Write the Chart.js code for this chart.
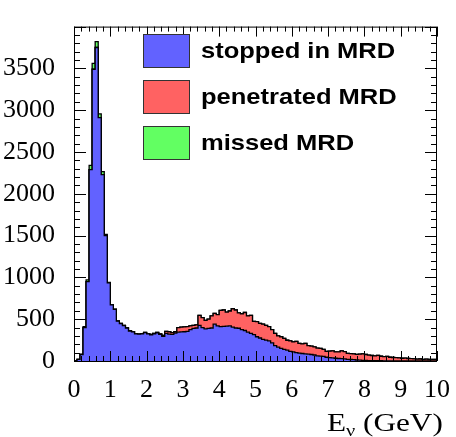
<!DOCTYPE html>
<html lang="en">
<head>
<meta charset="UTF-8">
<title>E_nu spectrum by MRD category</title>
<script src="https://cdn.jsdelivr.net/npm/chart.js@4"></script>
<style>
    body { margin: 0; background: #fff; }
    canvas { display: block; }
</style>
</head>
<body>
<canvas id="enuChart" width="456" height="437"></canvas>
<script>
    // 120 bins from 0 to 10 GeV, counts per bin
    const xMin = 0, xMax = 10, nBins = 120;
    const binWidth = (xMax - xMin) / nBins;

    const stoppedInMRD = [
        0, 0, 20, 78, 400, 950, 2290, 3490, 3750, 2910,
        2230, 1500, 935, 672, 618, 476, 448, 424, 394, 359,
        349, 324, 321, 326, 340, 325, 314, 326, 336, 318,
        296, 330, 322, 318, 335, 345, 348, 350, 355, 375,
        390, 395, 425, 400, 385, 390, 395, 440, 420, 410,
        415, 418, 420, 405, 395, 392, 375, 365, 345, 330,
        315, 290, 275, 258, 250, 240, 218, 185, 165, 150,
        138, 130, 115, 108, 100, 95, 90, 86, 82, 78,
        72, 62, 58, 55, 45, 40, 38, 33, 30, 28,
        25, 20, 18, 16, 12, 10, 8, 6, 5, 5,
        4, 3, 3, 2, 2, 2, 1, 1, 1, 1,
        1, 1, 1, 1, 1, 1, 1, 1, 1, 1
    ];
    const penetratedMRD = [
        0, 0, 0, 0, 0, 0, 0, 0, 0, 0,
        0, 0, 0, 0, 0, 2, 2, 1, 1, 1,
        1, 1, 1, 2, 3, 3, 4, 4, 6, 7,
        9, 25, 28, 22, 17, 55, 57, 58, 55, 45,
        35, 38, 120, 120, 100, 110, 145, 130, 135, 195,
        195, 167, 178, 220, 215, 183, 190, 215, 195, 215,
        160, 180, 175, 182, 175, 170, 157, 145, 135, 140,
        132, 118, 125, 120, 135, 115, 115, 126, 103, 100,
        98, 93, 92, 85, 70, 78, 84, 75, 80, 92,
        87, 72, 70, 69, 68, 72, 77, 72, 65, 61,
        58, 65, 54, 50, 53, 43, 41, 39, 37, 32,
        34, 29, 27, 24, 21, 23, 19, 21, 17, 19
    ];
    const missedMRD = [
        0, 0, 0, 2, 10, 20, 50, 70, 70, 45,
        35, 15, 5, 3, 2, 1, 1, 1, 1, 1,
        0, 0, 0, 0, 0, 0, 0, 0, 0, 0,
        0, 0, 0, 0, 0, 0, 0, 0, 0, 0,
        0, 0, 0, 0, 0, 0, 0, 0, 0, 0,
        0, 0, 0, 0, 0, 0, 0, 0, 0, 0,
        0, 0, 0, 0, 0, 0, 0, 0, 0, 0,
        0, 0, 0, 0, 0, 0, 0, 0, 0, 0,
        0, 0, 0, 0, 0, 0, 0, 0, 0, 0,
        0, 0, 0, 0, 0, 0, 0, 0, 0, 0,
        0, 0, 0, 0, 0, 0, 0, 0, 0, 0,
        0, 0, 0, 0, 0, 0, 0, 0, 0, 0
    ];

    const seriesLabels = ['stopped in MRD', 'penetrated MRD', 'missed MRD'];
    const seriesColors = ['#6262ff', '#ff6262', '#62ff62'];

    const yMax = 4000;
    const xTickStep = 1, yTickStep = 500;

    // histogram as step line: one point per left bin edge, plus the closing edge
    function toSteps(values) {
        const pts = values.map((v, i) => ({ x: xMin + i * binWidth, y: v }));
        pts.push({ x: xMax, y: values[values.length - 1] });
        return pts;
    }

    // frame with inward ticks on all four sides, legend and x title
    const rootFrame = {
        id: 'rootFrame',
        afterDatasetsDraw(chart) {
            const { ctx, chartArea: a, scales: { x, y } } = chart;
            ctx.save();
            ctx.strokeStyle = '#000';
            ctx.lineWidth = 1;
            ctx.strokeRect(a.left + 0.5, a.top + 0.5, a.right - a.left - 1, a.bottom - a.top);
            ctx.beginPath();
            for (let i = 0; i <= 50; i++) {
                const v = i * 0.2;
                const px = Math.round(x.getPixelForValue(v)) + 0.5;
                const len = i % 5 === 0 ? 10 : 5;
                ctx.moveTo(px, a.bottom); ctx.lineTo(px, a.bottom - len);
                ctx.moveTo(px, a.top); ctx.lineTo(px, a.top + len);
            }
            for (let i = 0; i <= 40; i++) {
                const v = i * 100;
                const py = Math.round(y.getPixelForValue(v)) + 0.5;
                const len = i % 5 === 0 ? 12 : 6;
                ctx.moveTo(a.left, py); ctx.lineTo(a.left + len, py);
                ctx.moveTo(a.right, py); ctx.lineTo(a.right - len, py);
            }
            ctx.stroke();
            ctx.restore();
        },
        afterDraw(chart) {
            const ctx = chart.ctx;
            ctx.save();
            // legend
            const bx = 143, bw = 46, bh = 33, rowTop = [34, 80, 126];
            chart.data.datasets.forEach((ds, i) => {
                ctx.fillStyle = ds.backgroundColor;
                ctx.fillRect(bx, rowTop[i], bw, bh);
                ctx.strokeStyle = '#333';
                ctx.lineWidth = 1;
                ctx.strokeRect(bx + 0.5, rowTop[i] + 0.5, bw, bh);
                ctx.save();
                ctx.translate(201, rowTop[i] + bh / 2 + 1);
                ctx.scale(1.16, 1);
                ctx.fillStyle = '#000';
                ctx.font = 'bold 22px "Liberation Sans", Arial, sans-serif';
                ctx.textBaseline = 'middle';
                ctx.textAlign = 'left';
                ctx.fillText(ds.label, 0, 0);
                ctx.restore();
            });
            // x axis title: E_nu (GeV), a bit wider than the plain font
            ctx.translate(327, 0);
            ctx.scale(1.2, 1);
            ctx.fillStyle = '#000';
            ctx.textBaseline = 'alphabetic';
            ctx.font = '26px "Liberation Serif", "Times New Roman", serif';
            let tx = 0;
            ctx.fillText('E', tx, 431);
            tx += ctx.measureText('E').width;
            ctx.font = '17px "Liberation Serif", "Times New Roman", serif';
            ctx.fillText('\u03BD', tx, 436);
            tx += ctx.measureText('\u03BD').width;
            ctx.font = '26px "Liberation Serif", "Times New Roman", serif';
            ctx.fillText(' (GeV)', tx, 431);
            ctx.restore();
        }
    };

    const tickFont = { family: '"Liberation Serif", "Times New Roman", serif', size: 26 };

    const ctx = document.getElementById('enuChart').getContext('2d');
    const enuChart = new Chart(ctx, {
        type: 'line',
        data: {
            datasets: [stoppedInMRD, penetratedMRD, missedMRD].map((vals, i) => ({
                label: seriesLabels[i],
                data: toSteps(vals),
                backgroundColor: seriesColors[i],
                borderColor: '#000',
                borderWidth: 1.3,
                stepped: 'after',
                fill: i === 0 ? 'origin' : '-1',
                pointRadius: 0
            }))
        },
        options: {
            responsive: false,
            animation: false,
            layout: { padding: { top: 11, right: 15, left: 0, bottom: 0 } },
            plugins: {
                legend: { display: false },
                tooltip: { enabled: false }
            },
            scales: {
                x: {
                    type: 'linear',
                    min: xMin,
                    max: xMax,
                    grid: { display: false },
                    border: { display: false },
                    ticks: { stepSize: xTickStep, autoSkip: false, maxRotation: 0, color: '#000', font: tickFont, padding: 6 },
                    afterFit: s => { s.height = 76; }
                },
                y: {
                    stacked: true,
                    min: 0,
                    max: yMax,
                    grid: { display: false },
                    border: { display: false },
                    ticks: {
                        stepSize: yTickStep,
                        color: '#000',
                        font: tickFont,
                        padding: 11,
                        callback: v => (v >= yMax ? '' : v)
                    },
                    afterFit: s => { s.width = 74; }
                }
            }
        },
        plugins: [rootFrame]
    });
</script>
</body>
</html>
